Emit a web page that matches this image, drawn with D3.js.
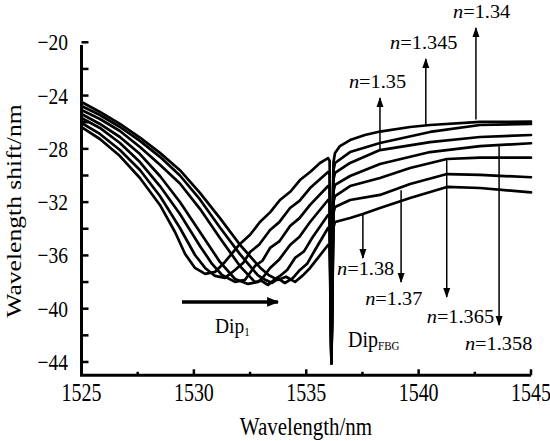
<!DOCTYPE html>
<html><head><meta charset="utf-8">
<script src="https://cdn.jsdelivr.net/npm/d3@7"></script>
<style>body{margin:0;background:#fff}svg{display:block}</style>
</head><body>
<svg id="c" width="550" height="441"></svg>
<script>
// ---------- data (wavelength nm, wavelength-shift value) ----------
const seriesNames = ["n=1.34","n=1.345","n=1.35","n=1.358","n=1.365","n=1.37","n=1.38"];
const s1340 = [[1525,-26.36],[1525.82,-27.26],[1526.71,-28.54],[1527.60,-30.19],[1528.49,-32.21],[1529.16,-34.24],[1529.61,-35.89],[1530.05,-36.94],[1530.50,-37.39],[1530.94,-37.24],[1531.38,-36.49],[1532.05,-35.14],[1532.5,-34.45],[1532.94,-33.49],[1533.4,-32.75],[1533.83,-31.84],[1534.3,-31.2],[1534.72,-30.34],[1535.2,-29.7],[1535.61,-29.06],[1535.97,-28.69],[1536.04,-28.9],[1536.12,-44.1],[1536.21,-29.0],[1536.28,-28.31],[1536.5,-27.79],[1536.95,-27.34],[1537.61,-26.96],[1538.28,-26.70],[1539.62,-26.36],[1540.51,-26.21],[1542.73,-25.98],[1545,-25.96]];
const s1345 = [[1525,-26.06],[1525.82,-26.88],[1526.71,-28.09],[1527.60,-29.59],[1528.49,-31.54],[1529.38,-33.94],[1530.05,-35.97],[1530.50,-36.94],[1530.94,-37.54],[1531.38,-37.69],[1531.83,-37.09],[1532.2,-36.55],[1532.50,-35.74],[1532.9,-35.2],[1533.39,-34.09],[1533.8,-33.5],[1534.28,-32.44],[1534.7,-31.9],[1535.17,-30.94],[1535.97,-29.74],[1536.04,-29.9],[1536.12,-44.1],[1536.21,-29.6],[1536.28,-29.06],[1536.95,-28.24],[1538.28,-27.56],[1540.51,-26.73],[1542.73,-26.21],[1545,-26.13]];
const s1350 = [[1525,-25.68],[1525.82,-26.43],[1526.71,-27.56],[1527.60,-28.99],[1528.49,-30.79],[1529.38,-32.89],[1530.27,-35.29],[1530.81,-36.64],[1531.25,-37.47],[1531.83,-37.99],[1532.27,-37.84],[1532.72,-36.79],[1533.05,-36.4],[1533.39,-35.44],[1533.8,-34.95],[1534.28,-33.79],[1534.7,-33.2],[1535.17,-32.21],[1535.97,-30.79],[1536.04,-30.9],[1536.12,-44.1],[1536.21,-30.3],[1536.28,-29.81],[1536.95,-29.06],[1538.28,-28.09],[1540.51,-27.49],[1542.73,-27.11],[1545,-26.96]];
const s1358 = [[1525,-25.38],[1525.82,-26.13],[1526.71,-27.11],[1527.60,-28.39],[1528.49,-30.04],[1529.38,-31.99],[1530.27,-34.24],[1531.16,-36.49],[1531.83,-37.77],[1532.41,-38.14],[1532.85,-37.99],[1533.1,-37.6],[1533.39,-36.94],[1533.8,-36.3],[1534.28,-35.22],[1534.7,-34.6],[1535.17,-33.49],[1535.97,-31.84],[1536.04,-31.9],[1536.12,-44.1],[1536.21,-31.2],[1536.28,-30.71],[1536.95,-30.04],[1538.28,-29.14],[1540.51,-28.24],[1542.73,-27.79],[1545,-27.58]];
const s1365 = [[1525,-25.08],[1525.82,-25.76],[1526.71,-26.66],[1527.60,-27.86],[1528.49,-29.2],[1529.38,-30.6],[1530.27,-32.5],[1531.16,-34.7],[1532.05,-36.8],[1532.72,-38.0],[1533.0,-37.9],[1533.30,-38.22],[1533.6,-37.8],[1533.83,-37.54],[1534.15,-37.1],[1534.50,-36.19],[1534.9,-35.7],[1535.26,-34.69],[1535.97,-32.97],[1536.04,-33.0],[1536.12,-44.1],[1536.21,-32.0],[1536.28,-31.54],[1536.95,-30.79],[1538.28,-30.19],[1539.62,-29.44],[1541.26,-28.76],[1542.73,-28.66],[1545,-28.66]];
const s1370 = [[1525,-24.78],[1525.82,-25.46],[1526.71,-26.36],[1527.60,-27.4],[1528.49,-28.6],[1529.38,-30.0],[1530.27,-31.8],[1531.16,-33.9],[1532.05,-35.9],[1532.85,-37.5],[1533.2,-37.85],[1533.48,-38.07],[1533.75,-37.75],[1534.05,-38.07],[1534.4,-37.7],[1534.72,-37.09],[1535.05,-36.6],[1535.39,-35.59],[1535.97,-33.94],[1536.04,-34.0],[1536.12,-44.1],[1536.21,-32.8],[1536.28,-32.36],[1536.95,-31.84],[1538.28,-31.46],[1539.62,-30.64],[1541.26,-29.89],[1542.73,-29.96],[1545,-30.13]];
const s1380 = [[1525,-24.48],[1525.82,-25.23],[1526.71,-26.13],[1527.60,-27.15],[1528.49,-28.3],[1529.38,-29.6],[1530.27,-31.3],[1531.16,-33.2],[1532.05,-35.2],[1532.94,-36.9],[1533.35,-37.5],[1533.74,-37.84],[1534.1,-37.6],[1534.50,-37.99],[1534.85,-37.5],[1535.17,-36.94],[1535.97,-35.22],[1536.04,-35.3],[1536.12,-44.1],[1536.21,-33.9],[1536.28,-33.49],[1536.95,-33.19],[1537.52,-32.89],[1538.28,-32.44],[1539.62,-31.69],[1541.26,-30.86],[1542.73,-30.94],[1545,-31.26]];
const seriesData = [s1340,s1345,s1350,s1358,s1365,s1370,s1380];

const xTickLabels = [1525,1530,1535,1540,1545];
const xMinorTicks = [1527.5,1532.5,1537.5,1542.5];
const yTickLabels = [-20,-24,-28,-32,-36,-40,-44];
const yMinorTicks = [-22,-26,-30,-34,-38,-42];

// annotations: label, arrow x (nm), arrow from, arrow to (value), label x (nm), label baseline (value)
const annLabels  = ["1.34","1.345","1.35","1.358","1.365","1.37","1.38"];
const annArrowX  = [1542.55,1540.32,1538.28,1543.58,1541.25,1539.22,1537.52];
const annFrom    = [-25.80,-26.25,-28.10,-27.80,-28.85,-31.10,-32.97];
const annTo      = [-18.93,-21.25,-24.18,-41.23,-39.12,-38.00,-36.20];
const annTextX   = [1541.53,1538.73,1536.90,1542.06,1540.36,1537.62,1536.37];
const annTextY   = [-18.18,-20.50,-23.43,-43.10,-41.10,-39.75,-37.47];

// ---------- drawing ----------
const svg = d3.select("#c");
const FONT = "'Liberation Serif','Times New Roman',serif";
const x = d3.scaleLinear().domain([1525,1545]).range([81.5,531]);
const y = d3.scaleLinear().domain([-45,-20]).range([375.3,42.3]);

function text(px, py, parts, size, anchor, sx, sy, rot) {
  const t = svg.append("text")
    .attr("transform", `translate(${px},${py}) scale(${sx},${sy})` + (rot ? ` rotate(${rot})` : ""))
    .attr("font-family", FONT).attr("font-size", size)
    .attr("text-anchor", anchor || "start").attr("fill", "#000");
  parts.forEach(p => {
    const s = t.append("tspan").text(p.t);
    if (p.i) s.attr("font-style", "italic");
    if (p.sub) s.attr("font-size", p.sub).attr("dy", p.dy);
  });
  return t;
}

// lines
const line = d3.line().x(d => x(d[0])).y(d => y(d[1]));
svg.append("g").selectAll("path").data(seriesData).join("path")
  .attr("d", line).attr("fill", "none").attr("stroke", "#000")
  .attr("stroke-width", 2.7).attr("stroke-linejoin", "round").attr("stroke-linecap", "round");

// axes
const ax = svg.append("g").attr("stroke", "#000").attr("fill", "none");
ax.append("path").attr("d", `M${x(1525)},${y(-20.2)}V${y(-45)}H${x(1545)}`)
  .attr("stroke-width", 3).attr("stroke-linejoin", "miter");
yTickLabels.concat(yMinorTicks).forEach(v => {
  ax.append("line").attr("x1", x(1525)).attr("x2", x(1525) + 7).attr("y1", y(v)).attr("y2", y(v)).attr("stroke-width", 2.5);
});
xTickLabels.forEach(v => {
  ax.append("line").attr("x1", x(v)).attr("x2", x(v)).attr("y1", y(-45)).attr("y2", y(-45) - 6).attr("stroke-width", 2.5);
});
xMinorTicks.forEach(v => {
  ax.append("line").attr("x1", x(v)).attr("x2", x(v)).attr("y1", y(-45)).attr("y2", y(-45) - 3.5).attr("stroke-width", 2.5);
});

xTickLabels.forEach(v => text(x(v), 401, [{t: String(v)}], 20, "middle", 1, 1.22));
yTickLabels.forEach(v => text(68, y(v) + 8, [{t: "\u2212" + Math.abs(v)}], 19.5, "end", 1, 1.22));
text(306, 435, [{t: "Wavelength/nm"}], 21, "middle", 1, 1.2);
text(21, 211, [{t: "Wavelength shift/nm"}], 21, "middle", 1, 1.22, -90);

// annotation arrows
const defs = svg.append("defs");
defs.append("marker").attr("id", "ah").attr("viewBox", "0 0 10 10").attr("refX", 9).attr("refY", 5)
  .attr("markerWidth", 10).attr("markerHeight", 10).attr("markerUnits", "userSpaceOnUse").attr("orient", "auto")
  .append("path").attr("d", "M0,1.5L10,5L0,8.5Z").attr("fill", "#000");
defs.append("marker").attr("id", "ahb").attr("viewBox", "0 0 10 10").attr("refX", 9).attr("refY", 5)
  .attr("markerWidth", 14).attr("markerHeight", 12).attr("markerUnits", "userSpaceOnUse").attr("orient", "auto")
  .append("path").attr("d", "M0,1L10,5L0,9Z").attr("fill", "#000");

annLabels.forEach((lab, i) => {
  svg.append("line").attr("x1", x(annArrowX[i])).attr("x2", x(annArrowX[i]))
    .attr("y1", y(annFrom[i])).attr("y2", y(annTo[i]))
    .attr("stroke", "#000").attr("stroke-width", 1.5).attr("marker-end", "url(#ah)");
  text(x(annTextX[i]), y(annTextY[i]), [{t: "n", i: true}, {t: "=" + lab}], 18.5, "start", 1.1, 1);
});

// Dip1 arrow and labels
svg.append("line").attr("x1", x(1529.47)).attr("x2", x(1533.74)).attr("y1", y(-39.49)).attr("y2", y(-39.49))
  .attr("stroke", "#000").attr("stroke-width", 3.5).attr("marker-end", "url(#ahb)");
text(x(1530.94), y(-41.82), [{t: "Dip"}, {t: "1", sub: 11, dy: 3}], 19.5, "start", 1, 1.12);
text(x(1536.86), y(-42.88), [{t: "Dip"}, {t: "FBG", sub: 11, dy: 3}], 20, "start", 1, 1.12);
</script>
</body></html>
